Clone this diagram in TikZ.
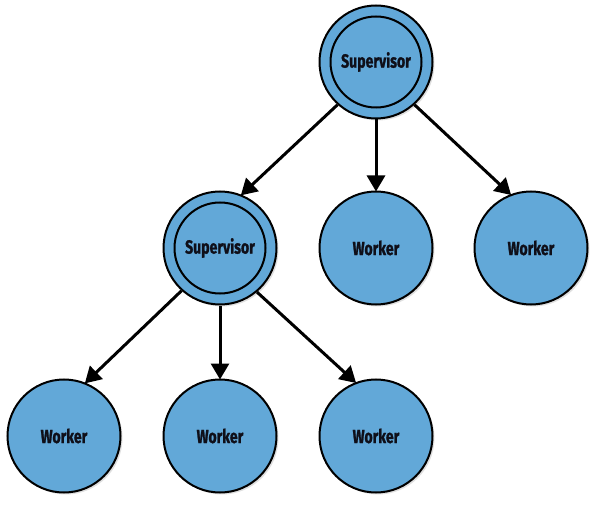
\documentclass[tikz,border=0pt]{standalone}
\usepackage{fontspec}
\newfontfamily\labfont{Fira Sans}[FakeStretch=0.74, BoldFont={Fira Sans Bold}, BoldFeatures={FakeStretch=0.74, FakeBold=1.2}]
\usetikzlibrary{arrows.meta,shadows}
\definecolor{nodeblue}{RGB}{98,168,216}
\definecolor{textdark}{RGB}{15,15,25}
\tikzset{
  labtext/.style={font=\labfont\bfseries\fontsize{19}{22}\selectfont, text=textdark},
  proc/.style={circle, draw=black, line width=2pt, fill=nodeblue, minimum size=113pt,
    inner sep=0pt, labtext,
    drop shadow={opacity=0.25, shadow xshift=2pt, shadow yshift=-2pt}},
  innerring/.style={draw=black, line width=2pt},
  link/.style={line width=3pt, -{Triangle[length=16pt,width=18pt]}, shorten >=-1pt}
}
\begin{document}
\begin{tikzpicture}[x=1pt,y=-1pt]
\useasboundingbox (0,0) rectangle (603,508);
\node[proc] (sup1) at (376,62) {};
\draw[innerring] (sup1.center) circle (45.5pt);
\node[labtext] (sup1l) at (sup1) {Supervisor};
\node[proc] (sup2) at (220,248) {};
\draw[innerring] (sup2.center) circle (45.5pt);
\node[labtext] (sup2l) at (sup2) {Supervisor};
\node[proc] (w1) at (376,248) {Worker};
\node[proc] (w2) at (531,248) {Worker};
\node[proc] (w3) at (64,436) {Worker};
\node[proc] (w4) at (220,436) {Worker};
\node[proc] (w5) at (376,436) {Worker};
\draw[link] (sup1.228) -- (sup2.68);
\draw[link] (sup1.south) -- (w1.north);
\draw[link] (sup1.-48) -- (w2.111);
\draw[link] (sup2.228) -- (w3.68);
\draw[link] (sup2.south) -- (w4.north);
\draw[link] (sup2.-50) -- (w5.111);
\end{tikzpicture}
\end{document}
